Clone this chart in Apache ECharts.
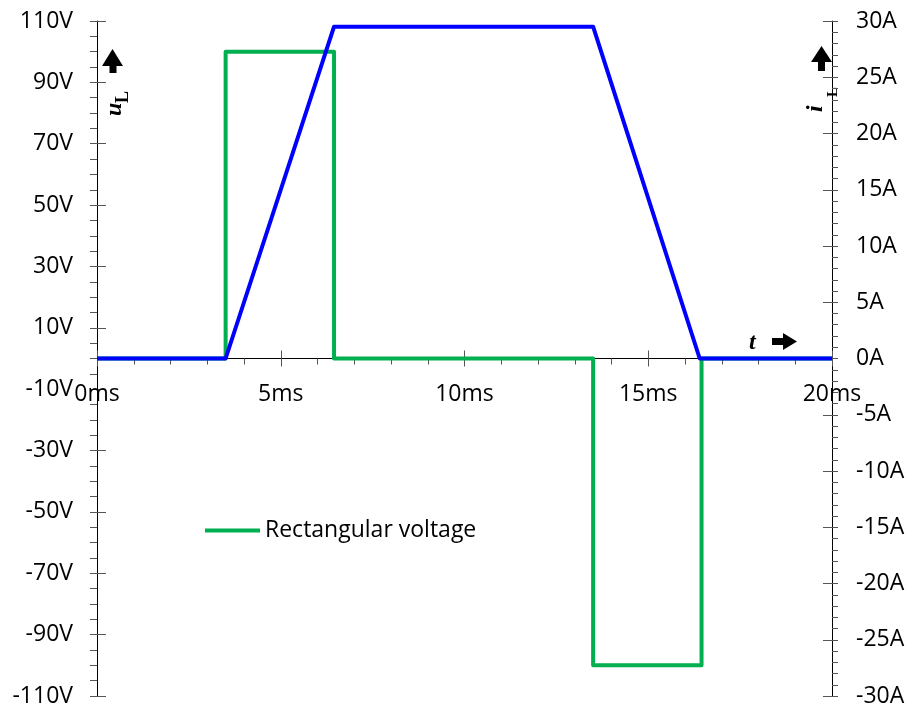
<!DOCTYPE html>
<html>
<head>
<meta charset="utf-8">
<script src="https://cdn.jsdelivr.net/npm/echarts@6/dist/echarts.min.js"></script>
<style>
  html, body { margin: 0; padding: 0; background: #fff; }
  #chart { width: 910px; height: 709px; }
</style>
</head>
<body>
<div id="chart"></div>
<script>
// 数据：矩形电压 u_L (V) 与电流 i_L (A)，时间单位 ms
const voltTime = [0, 3.5, 3.5, 6.45, 6.45, 13.5, 13.5, 16.45, 16.45, 20];
const voltValue = [0, 0, 100, 100, 0, 0, -100, -100, 0, 0];
const currTime = [0, 3.5, 6.45, 13.5, 16.4, 20];
const currValue = [0, 0, 29.5, 29.5, 0, 0];
const voltName = 'Rectangular voltage';
const currName = 'Current';

const chart = echarts.init(document.getElementById('chart'));

const labelFont = 'Open Sans';
const axisColor = '#000';
const tickColor = '#555';

// 主轴：外侧刻度 + 标签
const mainY = (min, max, interval, unit, pos, minorSplit) => ({
    type: 'value',
    position: pos,
    min: min,
    max: max,
    interval: interval,
    axisLine: { show: true, onZero: false, lineStyle: { color: axisColor, width: 1 } },
    axisTick: { show: true, inside: false, length: pos === 'left' ? 7 : 6, lineStyle: { color: tickColor } },
    minorTick: { show: true, splitNumber: minorSplit, length: pos === 'left' ? 7 : 6, lineStyle: { color: tickColor } },
    axisLabel: { formatter: '{value}' + unit, color: '#000', fontFamily: labelFont, fontSize: 23, margin: 24 },
    splitLine: { show: false }
});
// 辅助轴：内侧刻度（让主刻度穿过轴线）
const innerY = (min, max, interval, pos) => ({
    type: 'value',
    position: pos,
    min: min,
    max: max,
    interval: interval,
    axisLine: { show: false, onZero: false },
    axisTick: { show: true, inside: true, length: 9, lineStyle: { color: tickColor } },
    axisLabel: { show: false },
    splitLine: { show: false }
});

const serifText = (text, size, italic) => ({
    text: text,
    fontFamily: 'Liberation Serif',
    fontSize: size,
    fontStyle: italic ? 'italic' : 'normal',
    fontWeight: 'bold',
    fill: '#000',
    align: 'left',
    verticalAlign: 'bottom'
});

const option = {
    backgroundColor: '#fff',
    animation: false,
    grid: { left: 97, right: 78, top: 21, bottom: 13, containLabel: false, outerBoundsMode: 'none' },
    legend: {
        data: [voltName],
        left: 200,
        top: 514,
        icon: 'rect',
        itemWidth: 55,
        itemHeight: 4,
        textStyle: { color: '#000', fontFamily: labelFont, fontSize: 23 }
    },
    xAxis: [
        {
            type: 'value',
            position: 'bottom',
            min: 0,
            max: 20,
            interval: 5,
            axisLine: { show: true, onZero: false, lineStyle: { color: axisColor, width: 1 } },
            axisTick: { show: true, length: 8, lineStyle: { color: tickColor } },
            minorTick: { show: true, splitNumber: 5, length: 6, lineStyle: { color: tickColor } },
            axisLabel: { formatter: '{value}ms', color: '#000', fontFamily: labelFont, fontSize: 23, margin: 24 },
            splitLine: { show: false }
        },
        {
            type: 'value',
            position: 'bottom',
            min: 0,
            max: 20,
            interval: 5,
            axisLine: { show: false, onZero: false },
            axisTick: { show: true, inside: true, length: 8, lineStyle: { color: tickColor } },
            axisLabel: { show: false },
            splitLine: { show: false }
        }
    ],
    yAxis: [
        mainY(-110, 110, 20, 'V', 'left', 4),
        innerY(-110, 110, 20, 'left'),
        mainY(-30, 30, 5, 'A', 'right', 5),
        innerY(-30, 30, 5, 'right')
    ],
    series: [
        {
            name: voltName,
            type: 'line',
            yAxisIndex: 0,
            symbol: 'none',
            data: voltTime.map((t, i) => [t, voltValue[i]]),
            lineStyle: { color: '#00B050', width: 4, join: 'round' },
            itemStyle: { color: '#00B050' },
            z: 2
        },
        {
            name: currName,
            type: 'line',
            yAxisIndex: 2,
            symbol: 'none',
            data: currTime.map((t, i) => [t, currValue[i]]),
            lineStyle: { color: '#0000FF', width: 4, join: 'round' },
            itemStyle: { color: '#0000FF' },
            z: 3
        }
    ],
    graphic: [
        // u_L 竖排标注
        {
            type: 'group', x: 122, y: 116, rotation: Math.PI / 2,
            children: [
                { type: 'text', x: 0, y: 5, style: serifText('u', 24, true) },
                { type: 'text', x: 13, y: 10, style: serifText('L', 18, false) }
            ]
        },
        // i_L 竖排标注
        {
            type: 'group', x: 823, y: 112, rotation: Math.PI / 2,
            children: [
                { type: 'text', x: 0, y: 5, style: serifText('i', 24, true) },
                { type: 'text', x: 15, y: 18, style: serifText('L', 15, false) }
            ]
        },
        // 向上箭头（左）
        { type: 'polygon', shape: { points: [[102, 66], [112.5, 49], [123, 66]] }, style: { fill: '#000' } },
        { type: 'rect', shape: { x: 109.5, y: 64, width: 7, height: 9 }, style: { fill: '#000' } },
        // 向上箭头（右）
        { type: 'polygon', shape: { points: [[811, 62], [821.5, 46], [832, 62]] }, style: { fill: '#000' } },
        { type: 'rect', shape: { x: 818, y: 60, width: 7, height: 11 }, style: { fill: '#000' } },
        // t 与向右箭头
        { type: 'text', x: 749, y: 355, style: serifText('t', 24, true) },
        { type: 'rect', shape: { x: 772, y: 338, width: 13, height: 7 }, style: { fill: '#000' } },
        { type: 'polygon', shape: { points: [[783, 333], [797, 341.5], [783, 350]] }, style: { fill: '#000' } }
    ]
};

chart.setOption(option);

// 把时间轴移到 0V 处（由左轴比例换算偏移量）
const zeroY = chart.convertToPixel({ yAxisIndex: 0 }, 0);
const bottomY = chart.convertToPixel({ yAxisIndex: 0 }, -110);
const shift = zeroY - bottomY;
chart.setOption({ xAxis: [{ offset: shift }, { offset: shift }] });
</script>
</body>
</html>
